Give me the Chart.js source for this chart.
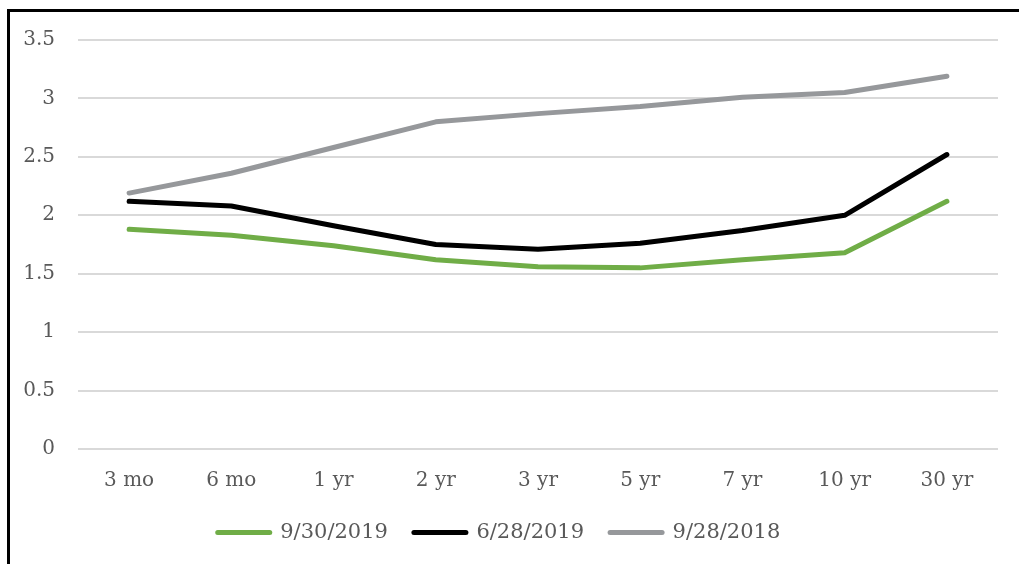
<!DOCTYPE html>
<html>
<head>
<meta charset="utf-8">
<script src="https://cdn.jsdelivr.net/npm/chart.js@4.4.0/dist/chart.umd.min.js"></script>
<style>
  body { margin: 0; background: #fff; overflow: hidden; }
  #frame { position: absolute; left: 7px; top: 9px; width: 1100px; height: 700px;
           border-left: 3px solid #000; border-top: 3px solid #000; }
  #wrap { position: absolute; left: 0; top: 0; width: 1019px; height: 564px; }
</style>
</head>
<body>
<div id="frame"></div>
<div id="wrap"><canvas id="mychart"></canvas></div>
<script>
var maturities = ["3 mo", "6 mo", "1 yr", "2 yr", "3 yr", "5 yr", "7 yr", "10 yr", "30 yr"];
var sep2019 = [1.88, 1.83, 1.74, 1.62, 1.56, 1.55, 1.62, 1.68, 2.12];
var jun2019 = [2.12, 2.08, 1.91, 1.75, 1.71, 1.76, 1.87, 2.00, 2.52];
var sep2018 = [2.19, 2.36, 2.58, 2.80, 2.87, 2.93, 3.01, 3.05, 3.19];
var yTicks = [0, 0.5, 1, 1.5, 2, 2.5, 3, 3.5];

Chart.defaults.font.family = "'DejaVu Serif', serif";
Chart.defaults.font.size = 20;
Chart.defaults.color = "#595959";

function line(label, data, color) {
    return {
        label: label,
        data: data,
        borderColor: color,
        backgroundColor: color,
        borderWidth: 5,
        borderCapStyle: "round",
        borderJoinStyle: "round",
        pointRadius: 0,
        tension: 0
    };
}

var ctx = document.getElementById("mychart").getContext("2d");
var chart = new Chart(ctx, {
    type: "line",
    data: {
        labels: maturities,
        datasets: [
            line("9/30/2019", sep2019, "#70ad47"),
            line("6/28/2019", jun2019, "#000000"),
            line("9/28/2018", sep2018, "#96989b")
        ]
    },
    options: {
        responsive: true,
        maintainAspectRatio: false,
        animation: false,
        layout: { padding: { left: 0, right: 21, top: 40, bottom: 11 } },
        plugins: {
            tooltip: { enabled: false },
            legend: {
                position: "bottom",
                labels: {
                    usePointStyle: true,
                    pointStyleWidth: 52,
                    padding: 26,
                    font: { size: 21 },
                    generateLabels: function(c) {
                        return c.data.datasets.map(function(ds, i) {
                            return {
                                text: ds.label,
                                pointStyle: "line",
                                strokeStyle: ds.borderColor,
                                fillStyle: ds.borderColor,
                                lineWidth: 5,
                                lineCap: "round",
                                fontColor: "#595959",
                                datasetIndex: i
                            };
                        });
                    }
                }
            }
        },
        scales: {
            x: {
                offset: true,
                grid: { display: false, drawTicks: false },
                border: { display: false },
                ticks: { padding: 20 },
                afterFit: function(axis) { axis.height -= 17; }
            },
            y: {
                min: 0,
                max: 3.5,
                afterBuildTicks: function(axis) {
                    axis.ticks = yTicks.map(function(v) { return { value: v }; });
                },
                afterFit: function(axis) { axis.width = 78; },
                grid: { color: "#d9d9d9", lineWidth: 2, drawTicks: false },
                border: { display: false },
                ticks: {
                    padding: 23,
                    callback: function(v) { return String(v); }
                }
            }
        }
    }
});
</script>
</body>
</html>
